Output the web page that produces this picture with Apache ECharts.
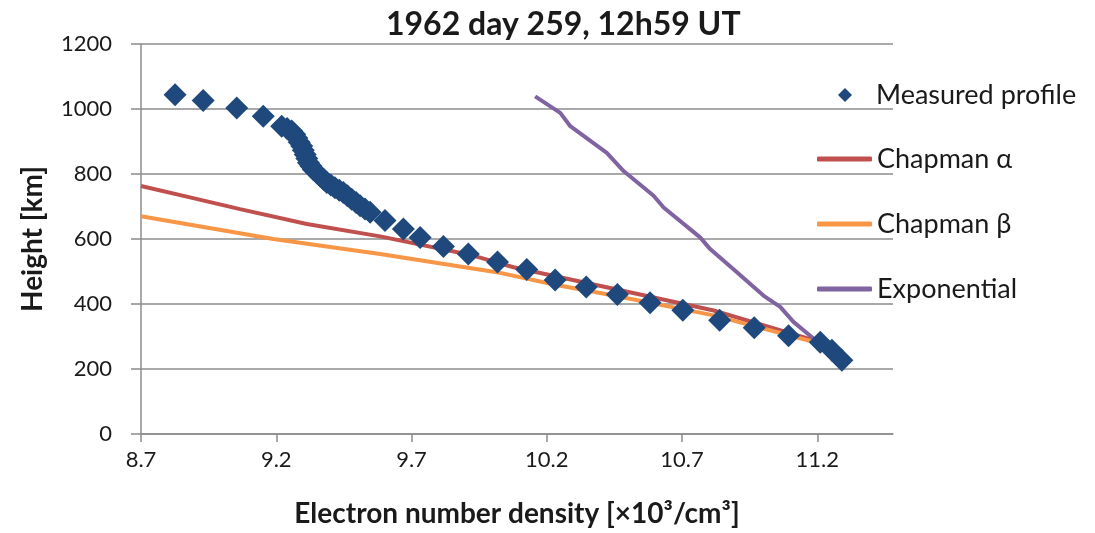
<!DOCTYPE html>
<html>
<head>
<meta charset="utf-8">
<script src="https://cdn.jsdelivr.net/npm/echarts@6/dist/echarts.min.js"></script>
<style>html,body{margin:0;padding:0;background:#fff}#c{width:1095px;height:533px}</style>
</head>
<body>
<div id="c"></div>
<script>
// Measured profile
const measuredX = [8.826, 8.930, 9.054, 9.152, 9.220, 9.240, 9.257, 9.268, 9.276, 9.285, 9.294, 9.300, 9.307, 9.313, 9.319, 9.328, 9.337, 9.350, 9.362, 9.375, 9.387, 9.402, 9.417, 9.433, 9.448, 9.463, 9.479, 9.495, 9.510, 9.528, 9.547, 9.602, 9.670, 9.732, 9.818, 9.910, 10.018, 10.126, 10.231, 10.346, 10.461, 10.582, 10.703, 10.839, 10.967, 11.094, 11.211, 11.254, 11.291];
const measuredH = [1044, 1026, 1003, 978, 947, 940, 932, 922, 911, 898, 886, 873, 860, 848, 835, 825, 814, 804, 794, 784, 774, 766, 758, 750, 743, 733, 722, 712, 702, 692, 682, 657, 631, 605, 577, 554, 529, 506, 474, 452, 429, 404, 381, 350, 327, 302, 282, 258, 227];
// Chapman alpha
const alphaX = [8.7, 8.881, 9.066, 9.313, 9.584, 9.928, 10.077, 10.447, 10.817, 11.186, 11.267];
const alphaH = [763, 728, 692, 646, 608, 549, 513, 447, 380, 289, 260];
// Chapman beta
const betaX = [8.7, 9.189, 9.584, 10.015, 10.231, 10.447, 10.817, 11.186, 11.267];
const betaH = [670, 600, 554, 498, 459, 426, 365, 284, 257];
// Exponential
const expX = [10.157, 10.250, 10.287, 10.422, 10.484, 10.595, 10.632, 10.767, 10.804, 10.903, 11.001, 11.063, 11.112, 11.186];
const expH = [1039, 988, 947, 865, 809, 733, 697, 605, 569, 498, 426, 391, 345, 294];
// Axis ticks
const xTicks = [8.7, 9.2, 9.7, 10.2, 10.7, 11.2];
const yTicks = [0, 200, 400, 600, 800, 1000, 1200];

const zip = (a, b) => a.map((v, i) => [v, b[i]]);
const FONT = 'Lato';
const TXT = '#1a1a1a';
const GRID = '#8c8c8c';

const chart = echarts.init(document.getElementById('c'), null, {renderer: 'canvas'});
chart.setOption({
  animation: false,
  backgroundColor: '#fff',
  title: {
    text: '1962 day 259, 12h59 UT',
    left: 381, top: 4,
    textStyle: {fontFamily: FONT, fontWeight: 'bold', fontSize: 32, color: TXT}
  },
  legend: [
    {
      orient: 'vertical',
      left: 833, top: 76.5,
      itemWidth: 14, itemHeight: 14,
      textStyle: {fontFamily: FONT, fontSize: 27, color: TXT, lineHeight: 27, padding: [0, 0, 0, 19]},
      data: [{name: 'Measured profile', icon: 'diamond'}]
    },
    {
      orient: 'vertical',
      left: 812, top: 140.5,
      itemWidth: 55, itemHeight: 5,
      itemGap: 38,
      textStyle: {fontFamily: FONT, fontSize: 27, color: TXT, lineHeight: 27},
      data: [
        {name: 'Chapman α', icon: 'roundRect'},
        {name: 'Chapman β', icon: 'roundRect'},
        {name: 'Exponential', icon: 'roundRect'}
      ]
    }
  ],
  grid: {left: 141, top: 44, width: 752, height: 392, containLabel: false},
  xAxis: {
    type: 'value',
    min: 8.7, max: 11.48, interval: 0.5,
    name: 'Electron number density [×10³/cm³]',
    nameLocation: 'middle', nameGap: 66,
    nameTextStyle: {fontFamily: FONT, fontWeight: 'bold', fontSize: 28, color: TXT},
    axisLine: {show: true, lineStyle: {color: GRID, width: 1.5}},
    axisTick: {show: true, length: 8, lineStyle: {color: GRID, width: 1.5}, customValues: xTicks},
    axisLabel: {fontFamily: FONT, fontSize: 22, color: TXT, margin: 15, customValues: xTicks,
      formatter: v => String(Math.round(v * 10) / 10)},
    splitLine: {show: false}
  },
  yAxis: {
    type: 'value',
    min: 0, max: 1200, interval: 200,
    name: 'Height [km]',
    nameLocation: 'middle', nameGap: 94,
    nameTextStyle: {fontFamily: FONT, fontWeight: 'bold', fontSize: 28, color: TXT},
    axisLine: {show: true, lineStyle: {color: GRID, width: 1.5}},
    axisTick: {show: true, length: 10, lineStyle: {color: GRID, width: 1.5}},
    axisLabel: {fontFamily: FONT, fontSize: 22, color: TXT, margin: 29, formatter: v => String(v)},
    splitLine: {show: true, lineStyle: {color: GRID, width: 1.5}}
  },
  series: [
    {
      name: 'Chapman α', type: 'line', data: zip(alphaX, alphaH),
      showSymbol: false, symbol: 'none', z: 2,
      lineStyle: {color: '#C0504D', width: 4}, itemStyle: {color: '#C0504D'}
    },
    {
      name: 'Chapman β', type: 'line', data: zip(betaX, betaH),
      showSymbol: false, symbol: 'none', z: 3,
      lineStyle: {color: '#F79646', width: 4}, itemStyle: {color: '#F79646'}
    },
    {
      name: 'Exponential', type: 'line', data: zip(expX, expH),
      showSymbol: false, symbol: 'none', z: 2,
      lineStyle: {color: '#8064A2', width: 4}, itemStyle: {color: '#8064A2'}
    },
    {
      name: 'Measured profile', type: 'scatter', data: zip(measuredX, measuredH),
      symbol: 'diamond', symbolSize: 23, z: 5,
      itemStyle: {color: '#1F497D', opacity: 1}
    }
  ]
});
</script>
</body>
</html>
